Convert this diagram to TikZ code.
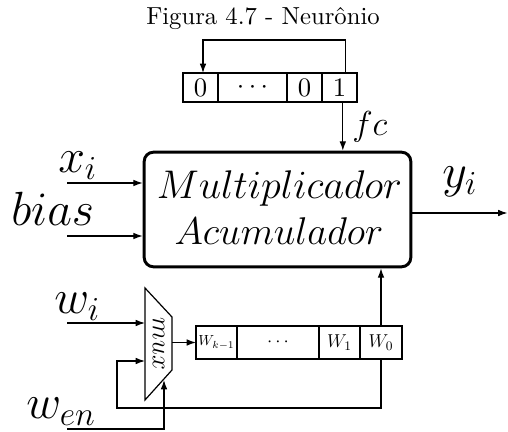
\RequirePackage{fix-cm}
\documentclass[tikz,border=0pt]{standalone}
\usepackage{fontspec}
\newfontfamily\lmten{lmroman10-regular.otf}
\usetikzlibrary{arrows.meta}
\begin{document}
\begin{tikzpicture}[x=0.75pt,y=-0.75pt,
  thin line/.style={line width=0.9pt},
  arr/.style={thin line,-{Latex[length=7pt,width=5pt]}},
  cell/.style={draw,thin line,rectangle,inner sep=0pt,outer sep=0pt,minimum height=#1},
  lbl/.style={inner sep=0pt,anchor=base west,font=\fontsize{36}{40}\selectfont}
]
\useasboundingbox (0,0) rectangle (508,432);

% title
\node[inner sep=0pt,anchor=base,font=\lmten\fontsize{18.5}{20}\selectfont] (title) at (263,25) {Figura 4.7 - Neurônio};

% top register
\begin{scope}[every node/.style={cell=21.75pt,font=\lmten\fontsize{20}{22}\selectfont}]
\node[minimum width=26.25pt] (t0) at (200.5,87.5) {0};
\node[minimum width=51.75pt] (tdots) at (252.5,87.5) {$\cdots$};
\node[minimum width=26.25pt] (t0b) at (304.5,87.5) {0};
\node[minimum width=26.25pt] (t1) at (339.5,87.5) {1};
\end{scope}
\coordinate (fbtop) at (203,40);
\draw[arr] ([xshift=4.5pt]t1.north) |- (fbtop) -- (fbtop |- t0.north);

% main box
\node[draw,line width=2.2pt,rounded corners=7pt,minimum width=200pt,minimum height=86pt,inner sep=0pt] (mac) at (277.5,209.5) {};
\node[inner sep=0pt,anchor=base,font=\fontsize{30}{34}\selectfont] (mult) at (279.5,198) {$Multiplicador$};
\node[inner sep=0pt,anchor=base,font=\fontsize{29}{34}\selectfont] (acum) at (279,244) {$Acumulador$};

\draw[arr] ([xshift=2.5pt]t1.south) -- ([xshift=2.5pt]t1.south |- mac.north);
\node[inner sep=0pt,anchor=base west,font=\fontsize{26}{28}\selectfont] (fc) at (352,135) {$fc$};

% inputs
\coordinate (xin) at (67,183);
\coordinate (bin) at (67,236);
\draw[arr] (xin) -- (xin -| mac.west);
\draw[arr] (bin) -- (bin -| mac.west);
\node[lbl] (xl) at (58,172) {$x_i$};
\node[lbl] (bl) at (11,225) {$bias$};

% output
\coordinate (yout) at (507.5,213);
\draw[arr] (yout -| mac.east) -- (yout);
\node[lbl] (yl) at (442,187) {$y_i$};

% mux
\coordinate (m1) at (145,288);
\coordinate (m2) at (172,317);
\coordinate (m3) at (172,370);
\coordinate (m4) at (145,400);
\draw[thin line] (m1) -- (m2) -- (m3) -- (m4) -- cycle;
\node[inner sep=0pt,rotate=-90,font=\fontsize{20}{22}\selectfont] (muxl) at (158.5,344) {$mux$};

% bottom register
\node[cell=24.75pt,minimum width=30.75pt,font=\fontsize{11}{12}\selectfont] (wk) at (216.5,342.5) {$W_{k-1}$};
\node[cell=24.75pt,minimum width=61.5pt,font=\fontsize{14}{16}\selectfont] (wdots) at (278,342.5) {$\cdots$};
\node[cell=24.75pt,minimum width=30.75pt,font=\fontsize{14}{16}\selectfont] (w1) at (339.5,342.5) {$W_1$};
\node[cell=24.75pt,minimum width=31.5pt,font=\fontsize{14}{16}\selectfont] (w0) at (381,342.5) {$W_0$};

\coordinate (muxout) at (172,342.5);
\draw[arr] (muxout) -- (wk.west);
\draw[arr] (w0.north) -- (w0.north |- mac.south);

% w_i
\coordinate (wiin) at (67,323);
\draw[arr] (wiin) -- (wiin -| m1);
\node[lbl] (wil) at (54,313) {$w_i$};

% loop
\coordinate (loopc) at (117,408);
\coordinate (muxin2) at (145,361);
\draw[arr] (w0.south) |- (loopc) |- (muxin2);

% w_en
\coordinate (wenin) at (67,429);
\coordinate (muxbot) at (164,380);
\draw[arr] (wenin) -| (muxbot);
\node[lbl] (wenl) at (26,418) {$w_{en}$};
\end{tikzpicture}
\end{document}
